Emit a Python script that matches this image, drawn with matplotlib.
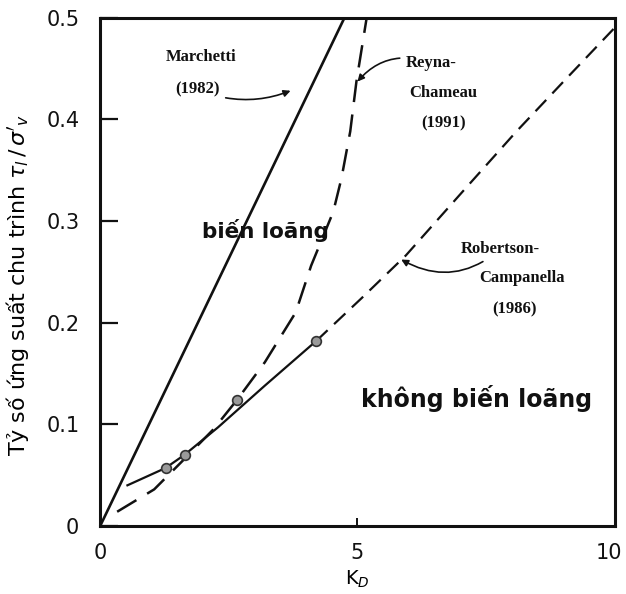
import matplotlib
matplotlib.use("Agg")
import matplotlib.pyplot as plt
from matplotlib.transforms import ScaledTranslation

# Marchetti (1982) boundary
marchetti_k = [0.0, 4.75]
marchetti_r = [0.0, 0.5]

# Reyna-Chameau (1991) boundary
reyna_k = [0.33, 1.05, 1.64, 2.2, 2.66, 3.2, 3.8, 4.1, 4.53, 4.69, 4.86, 4.98, 5.18]
reyna_r = [0.014, 0.036, 0.066, 0.095, 0.124, 0.161, 0.21, 0.256, 0.309, 0.342, 0.388, 0.437, 0.5]

# Robertson-Campanella (1986) boundary: measured part and extrapolation
rob_k = [0.53, 1.27, 1.64, 2.29, 3.2, 4.2]
rob_r = [0.040, 0.057, 0.070, 0.097, 0.138, 0.182]
rob_ext_k = [4.2, 5.08, 5.94, 7.1, 8.09, 9.06, 10.0]
rob_ext_r = [0.182, 0.224, 0.266, 0.332, 0.388, 0.44, 0.49]

# Field data points
pts_k = [1.27, 1.64, 2.66, 4.2]
pts_r = [0.057, 0.070, 0.124, 0.182]

x_ticks = [0, 5, 10]
x_ticklabels = ["0", "5", "10"]
y_ticks = [0, 0.1, 0.2, 0.3, 0.4, 0.5]
y_ticklabels = ["0", "0.1", "0.2", "0.3", "0.4", "0.5"]

fig = plt.figure(figsize=(6.26, 5.94), dpi=100)
ax = fig.add_axes([0.16, 0.1145, 0.822, 0.856])
ax.set_xlim(0, 10)
ax.set_ylim(0, 0.5)

ink = "#111111"
ax.plot(marchetti_k, marchetti_r, color=ink, lw=1.9, solid_capstyle="butt")
ax.plot(reyna_k, reyna_r, color=ink, lw=1.8, dashes=(9, 5))
ax.plot(rob_k, rob_r, color=ink, lw=1.6)
ax.plot(rob_ext_k, rob_ext_r, color=ink, lw=1.6, dashes=(7, 4))
ax.plot(pts_k, pts_r, linestyle="none", marker="o", ms=7,
        markerfacecolor="#9a9a9a", markeredgecolor="#333333", mew=1.2)

for s in ax.spines.values():
    s.set_linewidth(2.2)
    s.set_color(ink)

ax.set_xticks(x_ticks)
ax.set_xticklabels(x_ticklabels)
ax.set_yticks(y_ticks)
ax.set_yticklabels(y_ticklabels)
ax.tick_params(axis="y", direction="in", length=13, width=1.6, pad=15,
               labelsize=15, colors=ink)
ax.tick_params(axis="x", direction="in", length=6, width=1.4, pad=12,
               labelsize=15, colors=ink)
# keep the last x tick label inside the figure
last = ax.get_xticklabels()[-1]
last.set_transform(last.get_transform()
                   + ScaledTranslation(-0.06, 0, fig.dpi_scale_trans))

ax.set_xlabel("K$_D$", fontsize=14, labelpad=4)
ax.set_ylabel("Tỷ số ứng suất chu trình $\\tau_l\\,/\\,\\sigma'_{v}$",
              fontsize=16)
ax.yaxis.set_label_coords(-0.134, 0.474)

serif = dict(family="Liberation Serif", fontsize=12, fontweight="bold",
             color=ink)
arrow = dict(arrowstyle="-|>", color=ink, lw=1.2, mutation_scale=10,
             shrinkA=2, shrinkB=0)

ax.text(1.97, 0.461, "Marchetti", ha="center", va="center", **serif)
ax.annotate("(1982)", xy=(3.7, 0.428), xytext=(1.9, 0.429),
            ha="center", va="center",
            arrowprops=dict(connectionstyle="arc3,rad=0.2", **arrow), **serif)

ax.annotate("Reyna-", xy=(5.0, 0.437), xytext=(5.93, 0.455),
            ha="left", va="center",
            arrowprops=dict(connectionstyle="arc3,rad=0.35", **arrow), **serif)
ax.text(6.67, 0.426, "Chameau", ha="center", va="center", **serif)
ax.text(6.67, 0.396, "(1991)", ha="center", va="center", **serif)

ax.annotate("Robertson-", xy=(5.85, 0.262), xytext=(7.0, 0.272),
            ha="left", va="center",
            arrowprops=dict(connectionstyle="arc3,rad=-0.35", **arrow), **serif)
ax.text(8.2, 0.244, "Campanella", ha="center", va="center", **serif)
ax.text(8.05, 0.213, "(1986)", ha="center", va="center", **serif)

ax.text(3.22, 0.291, "biến loãng", ha="center", va="center",
        fontsize=15.5, fontweight="bold", color=ink)
ax.text(7.32, 0.125, "không biến loãng", ha="center", va="center",
        fontsize=17, fontweight="bold", color=ink)

fig.savefig("out.png", dpi=100)
